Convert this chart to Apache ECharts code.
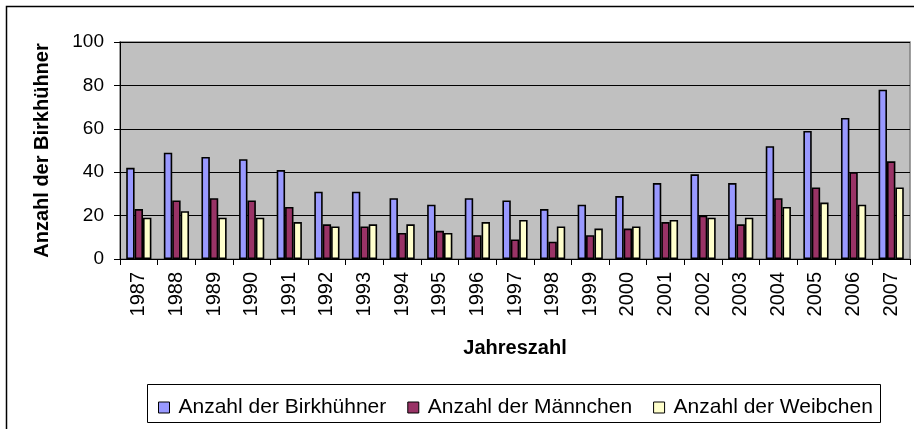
<!DOCTYPE html>
<html>
<head>
<meta charset="utf-8">
<script src="https://cdn.jsdelivr.net/npm/echarts@6/dist/echarts.min.js"></script>
<style>
html,body{margin:0;padding:0;background:#fff;}
#c{width:914px;height:429px;}
</style>
</head>
<body>
<div id="c"></div>
<script>
var years = ['1987','1988','1989','1990','1991','1992','1993','1994','1995','1996','1997','1998','1999','2000','2001','2002','2003','2004','2005','2006','2007'];
var birkhuehner = [42,49,47,46,41,31,31,28,25,28,27,23,25,29,35,39,35,52,59,65,78];
var maennchen = [23,27,28,27,24,16,15,12,13,11,9,8,11,14,17,20,16,28,33,40,45];
var weibchen = [19,22,19,19,17,15,16,16,12,17,18,15,14,15,18,19,19,24,26,25,33];
var yTicks = [0,20,40,60,80,100];

var FONT = '"Liberation Sans", Arial, sans-serif';
var chart = echarts.init(document.getElementById('c'), null, {renderer:'canvas'});
var barStyle = function(c){ return {color:c, borderColor:'#000', borderWidth:1.6}; };
chart.setOption({
  animation:false,
  textStyle:{fontFamily:FONT},
  graphic:[
    {type:'rect', z:-10, shape:{x:6.5,y:6.5,width:920,height:440}, style:{fill:'#fff', stroke:'#000', lineWidth:1.5}},
    {type:'rect', z:-5, shape:{x:147.5,y:384.5,width:733,height:38}, style:{fill:'#fff', stroke:'#000', lineWidth:1}}
  ],
  grid:{left:120, top:42, right:4, bottom:170, show:true, backgroundColor:'#C0C0C0', borderColor:'#808080', borderWidth:1.5},
  legend:{
    left:153, top:392, itemWidth:11, itemHeight:11, itemGap:21,
    data:['Anzahl der Birkhühner','Anzahl der Männchen','Anzahl der Weibchen'],
    textStyle:{fontFamily:FONT, fontSize:21, color:'#000', padding:[0,0,0,4]},
    itemStyle:{borderColor:'#000', borderWidth:1},
    icon:'rect'
  },
  xAxis:{
    type:'category', data:years,
    name:'Jahreszahl', nameLocation:'middle', nameGap:79,
    nameTextStyle:{fontFamily:FONT, fontSize:20, fontWeight:'bold', color:'#000'},
    axisLine:{lineStyle:{color:'#000', width:1}},
    axisTick:{show:true, length:6, lineStyle:{color:'#000'}},
    axisLabel:{rotate:90, fontSize:20, color:'#000', margin:13, fontFamily:FONT}
  },
  yAxis:{
    type:'value', min:0, max:100, interval:20,
    name:'Anzahl der Birkhühner', nameLocation:'middle', nameGap:68,
    nameTextStyle:{fontFamily:FONT, fontSize:20, fontWeight:'bold', color:'#000'},
    axisLine:{show:true, lineStyle:{color:'#000', width:1}},
    axisTick:{show:true, length:6, lineStyle:{color:'#000'}},
    axisLabel:{fontSize:19, color:'#000', margin:16, fontFamily:FONT,
      formatter:function(v){ return yTicks.indexOf(v) >= 0 ? String(v) : ''; }},
    splitLine:{show:true, lineStyle:{color:'#000', width:1}}
  },
  series:[
    {name:'Anzahl der Birkhühner', type:'bar', data:birkhuehner, barGap:'0%', barCategoryGap:'33%', itemStyle:barStyle('#9999FF')},
    {name:'Anzahl der Männchen', type:'bar', data:maennchen, barGap:'0%', barCategoryGap:'33%', itemStyle:barStyle('#993366')},
    {name:'Anzahl der Weibchen', type:'bar', data:weibchen, barGap:'0%', barCategoryGap:'33%', itemStyle:barStyle('#FFFFCC')}
  ]
});
</script>
</body>
</html>
